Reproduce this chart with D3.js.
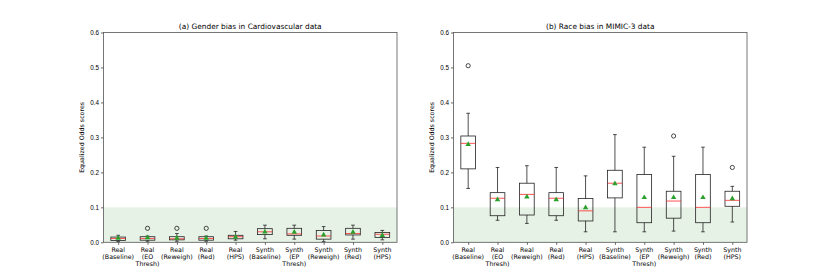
<!DOCTYPE html>
<html>
<head>
<meta charset="utf-8">
<script src="https://cdn.jsdelivr.net/npm/d3@7"></script>
<style>
  body { margin: 0; background: #fff; }
  svg { font-family: "DejaVu Sans", sans-serif; }
</style>
</head>
<body>
<svg id="chart" width="830" height="277"></svg>
<script>
// Categories (x tick labels, one line per array item)
const categories = [
    ["Real", "(Baseline)"], ["Real", "(EO", "Thresh)"], ["Real", "(Reweigh)"], ["Real", "(Red)"], ["Real", "(HPS)"],
    ["Synth", "(Baseline)"], ["Synth", "(EP", "Thresh)"], ["Synth", "(Reweigh)"], ["Synth", "(Red)"], ["Synth", "(HPS)"]
];
const yTicks = [0.0, 0.1, 0.2, 0.3, 0.4, 0.5, 0.6];

// (a) Gender bias in Cardiovascular data
const cardioLow = [0.002, 0.003, 0.003, 0.003, 0.006, 0.010, 0.009, 0.002, 0.009, 0.007];
const cardioQ1 = [0.005, 0.006, 0.007, 0.006, 0.010, 0.022, 0.020, 0.009, 0.021, 0.014];
const cardioMedian = [0.011, 0.011, 0.010, 0.011, 0.016, 0.030, 0.024, 0.018, 0.025, 0.023];
const cardioQ3 = [0.015, 0.016, 0.016, 0.016, 0.020, 0.039, 0.040, 0.034, 0.040, 0.028];
const cardioHigh = [0.020, 0.018, 0.025, 0.018, 0.031, 0.049, 0.049, 0.045, 0.049, 0.034];
const cardioMean = [0.012, 0.013, 0.012, 0.012, 0.015, 0.030, 0.029, 0.021, 0.029, 0.020];
const cardioOutliers = [[], [0.040], [0.040], [0.040], [], [], [], [], [], []];

// (b) Race bias in MIMIC-3 data
const mimicLow = [0.154, 0.063, 0.054, 0.063, 0.030, 0.030, 0.030, 0.032, 0.030, 0.058];
const mimicQ1 = [0.210, 0.076, 0.078, 0.076, 0.061, 0.127, 0.056, 0.069, 0.056, 0.103];
const mimicMedian = [0.283, 0.126, 0.137, 0.126, 0.090, 0.169, 0.100, 0.118, 0.100, 0.120];
const mimicQ3 = [0.304, 0.142, 0.169, 0.142, 0.125, 0.206, 0.194, 0.146, 0.194, 0.146];
const mimicHigh = [0.369, 0.214, 0.219, 0.214, 0.190, 0.308, 0.272, 0.246, 0.272, 0.160];
const mimicMean = [0.280, 0.122, 0.130, 0.122, 0.099, 0.168, 0.128, 0.128, 0.128, 0.125];
const mimicOutliers = [[0.505], [], [], [], [], [], [], [0.304], [], [0.214]];

const fairBand = [0.0, 0.1];

const svg = d3.select("#chart");

const panels = [
    { title: "(a) Gender bias in Cardiovascular data", left: 103.5, right: 397,
      low: cardioLow, q1: cardioQ1, med: cardioMedian, q3: cardioQ3, high: cardioHigh, mean: cardioMean, out: cardioOutliers },
    { title: "(b) Race bias in MIMIC-3 data", left: 453.5, right: 747,
      low: mimicLow, q1: mimicQ1, med: mimicMedian, q3: mimicQ3, high: mimicHigh, mean: mimicMean, out: mimicOutliers }
];

const plotTop = 32.5, plotBottom = 242.3;

panels.forEach(p => {
    const x = d3.scaleLinear().domain([0.5, categories.length + 0.5]).range([p.left, p.right]);
    const y = d3.scaleLinear().domain([0, 0.6]).range([plotBottom, plotTop]);
    const g = svg.append("g");

    // Green "fair" band
    g.append("rect")
        .attr("x", p.left)
        .attr("y", y(fairBand[1]))
        .attr("width", p.right - p.left)
        .attr("height", y(fairBand[0]) - y(fairBand[1]))
        .attr("fill", "#e6f2e6");

    // Y axis
    const yAxis = g.append("g")
        .attr("transform", `translate(${p.left},0)`)
        .call(d3.axisLeft(y).tickValues(yTicks).tickFormat(d3.format(".1f")).tickSize(2.5).tickPadding(2));
    yAxis.select(".domain").remove();
    yAxis.selectAll("text").attr("font-size", 6.3).attr("fill", "#000");
    yAxis.selectAll("line").attr("stroke", "#000").attr("stroke-width", 0.6);

    // X axis
    const xAxis = g.append("g")
        .attr("transform", `translate(0,${plotBottom})`)
        .call(d3.axisBottom(x).tickValues(d3.range(1, categories.length + 1)).tickFormat("").tickSize(2.5));
    xAxis.select(".domain").remove();
    xAxis.selectAll("line").attr("stroke", "#000").attr("stroke-width", 0.6);

    categories.forEach((lines, i) => {
        const t = g.append("text")
            .attr("x", x(i + 1))
            .attr("y", plotBottom + 9.7)
            .attr("text-anchor", "middle")
            .attr("font-size", 6.3)
            .attr("fill", "#000");
        lines.forEach((ln, j) => {
            t.append("tspan").attr("x", x(i + 1)).attr("dy", j === 0 ? 0 : 7).text(ln);
        });
    });

    // Y label
    g.append("text")
        .attr("transform", `translate(${p.left - 20},${(plotTop + plotBottom) / 2}) rotate(-90)`)
        .attr("text-anchor", "middle")
        .attr("font-size", 6.3)
        .attr("fill", "#000")
        .text("Equalized Odds scores");

    // Title
    g.append("text")
        .attr("x", (p.left + p.right) / 2)
        .attr("y", plotTop - 4)
        .attr("text-anchor", "middle")
        .attr("font-size", 7.4)
        .attr("fill", "#000")
        .text(p.title);

    // Boxes
    const bw = x(1.25) - x(1);
    const cw = bw / 2;
    categories.forEach((c, i) => {
        const cx = x(i + 1);
        const stroke = "#222";
        // whiskers
        g.append("line").attr("x1", cx).attr("x2", cx).attr("y1", y(p.q3[i])).attr("y2", y(p.high[i]))
            .attr("stroke", stroke).attr("stroke-width", 0.8);
        g.append("line").attr("x1", cx).attr("x2", cx).attr("y1", y(p.q1[i])).attr("y2", y(p.low[i]))
            .attr("stroke", stroke).attr("stroke-width", 0.8);
        // caps
        [p.high[i], p.low[i]].forEach(v => {
            g.append("line").attr("x1", cx - cw / 2).attr("x2", cx + cw / 2).attr("y1", y(v)).attr("y2", y(v))
                .attr("stroke", stroke).attr("stroke-width", 0.8);
        });
        // box
        g.append("rect")
            .attr("x", cx - bw)
            .attr("y", y(p.q3[i]))
            .attr("width", bw * 2)
            .attr("height", y(p.q1[i]) - y(p.q3[i]))
            .attr("fill", "none")
            .attr("stroke", stroke)
            .attr("stroke-width", 0.8);
        // median
        g.append("line").attr("x1", cx - bw).attr("x2", cx + bw).attr("y1", y(p.med[i])).attr("y2", y(p.med[i]))
            .attr("stroke", "#ff2a2a").attr("stroke-width", 0.8);
        // mean triangle
        g.append("path")
            .attr("transform", `translate(${cx},${y(p.mean[i])})`)
            .attr("d", d3.symbol(d3.symbolTriangle, 13)())
            .attr("fill", "#2ca02c");
        // outliers
        p.out[i].forEach(v => {
            g.append("circle").attr("cx", cx).attr("cy", y(v)).attr("r", 2.1)
                .attr("fill", "none").attr("stroke", "#000").attr("stroke-width", 0.7);
        });
    });

    // Frame
    g.append("rect")
        .attr("x", p.left).attr("y", plotTop)
        .attr("width", p.right - p.left).attr("height", plotBottom - plotTop)
        .attr("fill", "none").attr("stroke", "#555").attr("stroke-width", 0.8);
});
</script>
</body>
</html>
